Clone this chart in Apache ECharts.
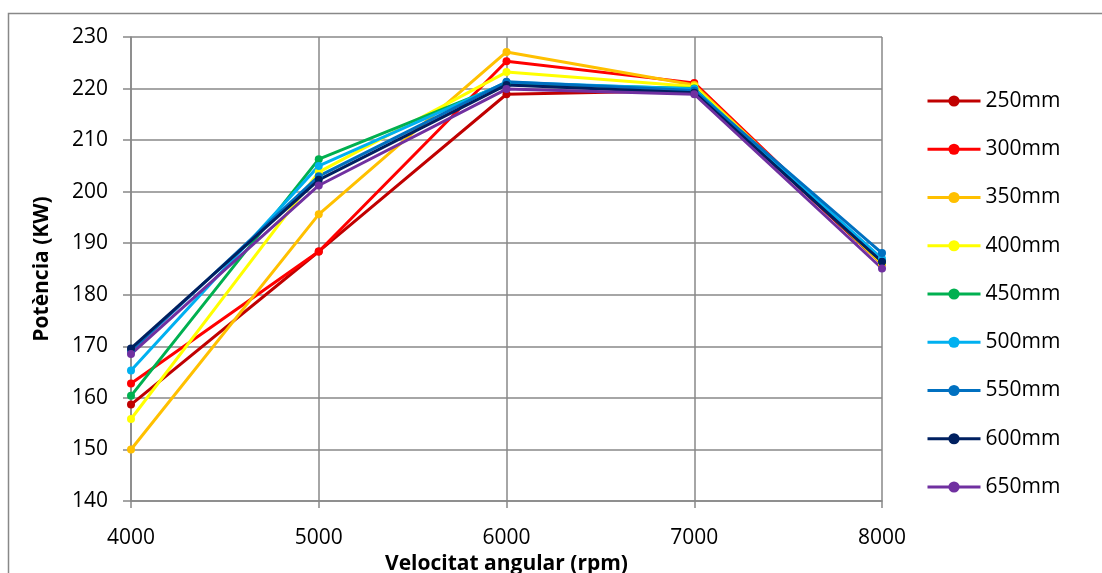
<!DOCTYPE html>
<html>
<head>
<meta charset="utf-8">
<script src="https://cdn.jsdelivr.net/npm/echarts@6/dist/echarts.min.js"></script>
<style>
html,body{margin:0;padding:0;background:#fff;}
#chart{width:1102px;height:573px;}
</style>
</head>
<body>
<div id="chart"></div>
<script>
// Engine speed (rpm) on the x axis
const speeds = [4000, 5000, 6000, 7000, 8000];

// Power (kW) per intake runner length
const seriesNames = ['250mm', '300mm', '350mm', '400mm', '450mm', '500mm', '550mm', '600mm', '650mm'];
const p250 = [158.7, 188.4, 218.9, 219.6, 186.0];
const p300 = [162.8, 188.4, 225.3, 221.1, 186.2];
const p350 = [150.0, 195.6, 227.1, 220.7, 186.0];
const p400 = [155.9, 203.8, 223.2, 220.4, 186.2];
const p450 = [160.4, 206.3, 221.0, 220.0, 186.5];
const p500 = [165.3, 205.0, 221.2, 219.9, 187.0];
const p550 = [169.1, 203.0, 221.3, 219.6, 188.1];
const p600 = [169.6, 202.3, 220.7, 219.2, 186.4];
const p650 = [168.5, 201.2, 219.9, 218.9, 185.1];
const seriesValues = [p250, p300, p350, p400, p450, p500, p550, p600, p650];

const colors = ['#C00000', '#FF0000', '#FFC000', '#FFFF00', '#00B050', '#00B0F0', '#0070C0', '#002060', '#7030A0'];

const font = '"Open Sans", Lato, "Liberation Sans", sans-serif';

const chart = echarts.init(document.getElementById('chart'), null, {renderer: 'canvas'});

chart.setOption({
  animation: false,
  color: colors,
  graphic: [{
    type: 'rect',
    shape: {x: 8.5, y: 13.5, width: 1120, height: 600},
    style: {fill: 'none', stroke: '#888', lineWidth: 1.5},
    silent: true
  }],
  grid: {left: 131, right: 220, top: 37, bottom: 72, containLabel: false, outerBoundsMode: 'none'},
  legend: {
    orient: 'vertical',
    left: 921,
    top: 85,
    itemWidth: 53,
    itemHeight: 14,
    itemGap: 26.25,
    data: seriesNames,
    lineStyle: {width: 3},
    textStyle: {fontSize: 21, color: '#000', fontFamily: font, lineHeight: 22}
  },
  xAxis: {
    type: 'value',
    min: 4000,
    max: 8000,
    interval: 1000,
    name: 'Velocitat angular (rpm)',
    nameLocation: 'middle',
    nameGap: 52,
    nameTextStyle: {fontSize: 21, fontWeight: 'bold', color: '#000', fontFamily: font},
    axisLine: {lineStyle: {color: '#888', width: 1.5}},
    axisTick: {show: true, length: 7, lineStyle: {color: '#888', width: 1.5}},
    axisLabel: {fontSize: 21, color: '#000', fontFamily: font, margin: 27,
      formatter: function (v) { return String(v); }},
    splitLine: {show: true, lineStyle: {color: '#888', width: 1.5}}
  },
  yAxis: {
    type: 'value',
    min: 140,
    max: 230,
    interval: 10,
    name: 'Potència (KW)',
    nameLocation: 'middle',
    nameGap: 78,
    nameRotate: 90,
    nameTextStyle: {fontSize: 21, fontWeight: 'bold', color: '#000', fontFamily: font},
    axisLine: {show: true, lineStyle: {color: '#888', width: 1.5}},
    axisTick: {show: true, length: 8, lineStyle: {color: '#888', width: 1.5}},
    axisLabel: {fontSize: 21, color: '#000', fontFamily: font, margin: 23},
    splitLine: {show: true, lineStyle: {color: '#888', width: 1.5}}
  },
  series: seriesNames.map(function (name, i) {
    return {
      name: name,
      type: 'line',
      data: speeds.map(function (s, j) { return [s, seriesValues[i][j]]; }),
      symbol: 'circle',
      symbolSize: 8,
      lineStyle: {width: 3, color: colors[i]},
      itemStyle: {color: colors[i]}
    };
  })
});
</script>
</body>
</html>
